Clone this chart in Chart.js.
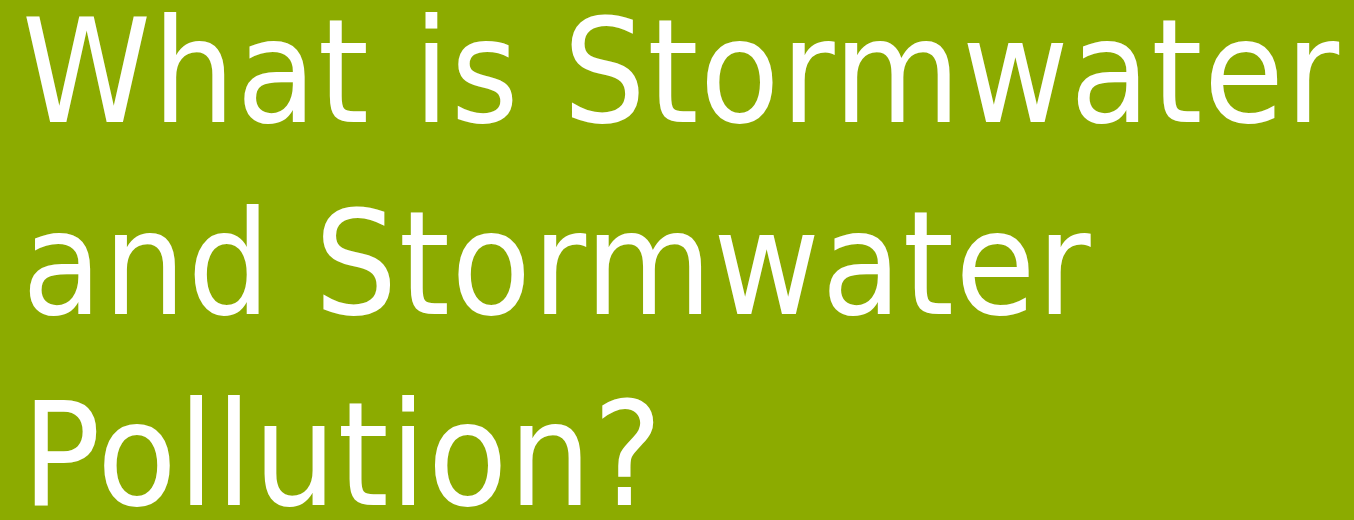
<!DOCTYPE html>
<html>
<head>
<meta charset="utf-8">
<script src="https://cdn.jsdelivr.net/npm/chart.js@4"></script>
<style>
  html, body { margin: 0; padding: 0; background: #8cab00; }
  #wrap { width: 1354px; height: 520px; }
</style>
</head>
<body>
<div id="wrap"><canvas id="slideChart"></canvas></div>
<script>
const titleLines = ["What is Stormwater", "and Stormwater", "Pollution?"];
const categories = [];
const seriesValues = [];

const slideCtx = document.getElementById("slideChart");

// slightly wider spacing than the plain condensed face
const letterSpacingPlugin = {
  id: "letterSpacing",
  beforeDraw(chart) {
    chart.ctx.letterSpacing = "1.4px";
  },
};

new Chart(slideCtx, {
  type: "bar",
  data: {
    labels: categories,
    datasets: [{ data: seriesValues }],
  },
  options: {
    responsive: true,
    maintainAspectRatio: false,
    animation: false,
    layout: { padding: { left: 22, top: 0, right: 0, bottom: 0 } },
    scales: { x: { display: false }, y: { display: false } },
    plugins: {
      legend: { display: false },
      tooltip: { enabled: false },
      title: {
        display: true,
        text: titleLines,
        align: "start",
        color: "#ffffff",
        padding: { top: -11, bottom: 0 },
        font: { family: "DejaVu Sans Condensed", size: 145, weight: "normal", lineHeight: 1.32 },
      },
    },
  },
  plugins: [letterSpacingPlugin],
});
</script>
</body>
</html>
